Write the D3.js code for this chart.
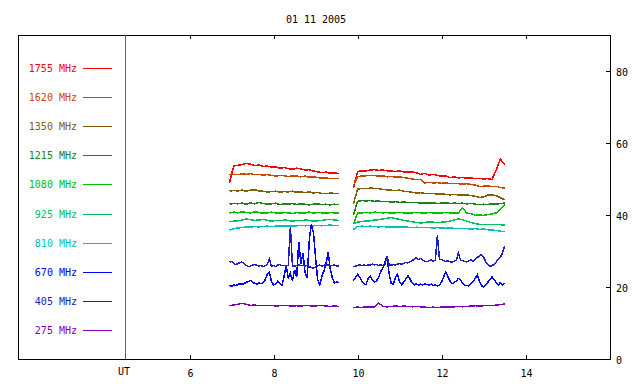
<!DOCTYPE html>
<html>
<head>
<meta charset="utf-8">
<script src="https://cdn.jsdelivr.net/npm/d3@7"></script>
<style>
  body { margin: 0; background: #fff; }
  text { font-family: "DejaVu Sans Mono", monospace; font-size: 10px; }
</style>
</head>
<body>
<div id="chart"></div>
<script>
var title = "01 11 2005";
var freqs = ["1755 MHz", "1620 MHz", "1350 MHz", "1215 MHz", "1080 MHz", "925 MHz", "810 MHz", "670 MHz", "405 MHz", "275 MHz"];
var xTicks = [6, 8, 10, 12, 14];
var yTicks = [0, 20, 40, 60, 80];

// two observing runs; quiet channels sampled every 0.1 h, 670/405 every 0.05 h
var seg1Start = 6.94, seg2Start = 9.89;

var f1755a = [49.0,53.6,53.8,54.0,54.3,54.1,53.7,53.9,53.5,53.6,53.3,53.4,53.0,53.2,52.9,52.7,53.0,52.8,52.5,52.6,52.2,52.0,51.8,51.9,51.6,51.7,51.5];
var f1755b = [47.5,52.1,52.3,52.2,52.5,52.6,52.4,52.5,52.3,52.2,52.1,52.2,52.0,51.9,52.0,51.7,51.3,51.6,51.1,51.3,51.0,50.8,50.9,50.4,50.6,50.3,50.4,50.2,50.3,50.1,50.2,50.0,50.1,49.9,52.5,55.6,54.0];
var f1620a = [51.1,51.3,51.2,51.4,51.3,51.5,51.2,51.3,51.1,51.2,51.0,50.8,51.0,50.9,50.7,50.9,50.8,50.6,50.8,50.5,50.6,50.4,50.2,50.3,50.1,50.2,50.1];
var f1620b = [48.0,50.7,50.8,50.9,51.0,51.0,50.8,50.9,50.6,50.7,50.5,50.6,50.4,50.2,50.0,49.8,49.9,48.9,49.1,48.9,49.0,48.8,48.9,48.7,48.8,48.7,48.6,48.7,48.5,48.3,47.9,48.0,48.1,47.9,48.0,47.6,47.5];
var f1350a = [46.6,46.8,46.7,46.9,46.6,46.9,47.0,46.7,46.6,46.4,46.5,46.6,46.3,46.5,46.4,46.6,46.3,46.4,46.2,46.4,46.1,46.3,46.0,45.9,46.1,46.0,46.0];
var f1350b = [43.0,47.2,47.4,47.3,47.5,47.4,47.3,47.1,47.0,46.9,46.8,46.9,46.6,46.5,46.3,46.1,46.2,46.0,45.9,46.0,45.8,45.9,45.7,45.6,45.7,45.6,45.5,45.6,45.4,45.2,44.9,45.0,45.5,45.6,45.4,44.8,44.2];
var f1215a = [43.0,43.2,43.1,43.3,43.0,43.4,43.1,43.5,43.2,43.0,43.1,43.3,42.9,43.1,43.0,43.2,42.9,43.1,43.0,42.8,43.0,43.1,42.9,43.0,42.8,43.0,42.9];
var f1215b = [40.0,43.8,44.0,43.9,44.0,43.8,43.9,43.7,43.8,43.6,43.7,43.5,43.6,43.5,43.4,43.5,43.3,43.4,43.3,43.4,43.2,43.3,43.4,43.2,43.3,43.2,43.3,43.1,43.2,43.0,42.9,43.0,42.9,43.1,43.0,43.2,43.3];
var f1080a = [40.5,40.8,40.6,40.9,40.7,40.6,40.9,40.7,40.5,40.6,40.8,40.6,40.5,40.7,40.6,40.4,40.7,40.5,40.6,40.8,40.5,40.7,40.6,40.5,40.7,40.6,40.5];
var f1080b = [37.5,40.5,40.6,40.7,40.6,40.8,40.7,40.6,40.7,40.5,40.6,40.7,40.6,40.5,40.6,40.7,40.6,40.5,40.7,40.6,40.5,40.6,40.7,40.6,40.5,40.6,42.0,40.5,40.4,39.9,40.0,39.9,40.1,40.3,40.6,41.5,42.9];
var f925a = [38.1,38.3,38.4,38.6,38.9,38.7,38.5,38.6,38.8,38.5,38.3,38.5,38.4,38.6,38.5,38.3,38.5,38.4,38.6,38.5,38.3,38.4,38.5,38.7,38.8,38.6,38.5];
var f925b = [37.6,38.0,38.2,38.3,38.4,38.6,38.7,38.9,39.1,39.3,39.0,38.8,38.5,38.3,38.1,37.9,37.8,37.9,38.1,38.0,37.9,38.0,38.1,38.3,38.6,38.9,38.7,38.3,37.9,37.6,37.4,37.3,37.4,37.3,37.4,37.3,37.2];
var f810a = [35.8,36.2,36.4,36.5,36.7,36.6,36.8,36.7,36.8,36.9,36.8,36.9,37.0,36.9,37.0,36.9,37.0,37.1,37.0,37.1,37.0,37.1,37.0,37.1,37.2,37.1,37.1];
var f810b = [36.0,36.8,36.9,36.8,36.9,36.8,36.7,36.8,36.7,36.6,36.7,36.6,36.7,36.6,36.5,36.6,36.5,36.6,36.5,36.4,36.5,36.4,36.3,36.4,36.3,36.2,36.3,36.2,36.1,36.2,36.0,36.1,35.9,35.8,35.7,35.5,35.3];
var f670a = [20.4,20.2,20.6,20.4,20.7,20.9,20.7,21.0,21.3,21.5,21.8,21.4,21.0,20.8,21.1,20.9,21.2,22.0,23.5,24.2,21.5,20.6,20.8,21.6,21.0,20.5,23.0,25.8,22.6,23.8,21.7,24.8,22.8,32.5,26.5,29.4,24.0,22.5,33.0,37.5,35.0,28.0,22.0,20.6,23.0,24.5,26.5,29.8,25.0,22.5,21.0,21.5,21.1];
var f670b = [21.8,22.6,23.5,22.8,21.6,20.9,20.7,22.3,23.0,21.9,21.4,21.7,22.6,24.3,25.2,26.8,28.6,23.8,21.0,20.7,22.6,23.6,21.5,20.6,21.4,22.2,23.1,22.2,21.1,20.6,20.9,20.5,20.8,20.6,20.9,20.7,20.5,20.8,20.4,20.6,20.3,20.5,21.4,22.8,24.2,22.9,21.7,20.9,21.3,21.6,22.4,22.0,21.0,20.5,20.4,20.3,20.9,21.6,22.3,23.4,21.5,20.4,19.9,20.5,21.3,22.0,22.8,22.0,21.3,20.6,21.2,20.5,21.0];
var f405a = [26.9,27.1,26.6,26.2,26.5,26.8,26.9,26.6,26.0,25.7,25.8,26.1,26.3,26.0,25.8,26.0,25.7,25.9,26.2,27.8,25.8,26.0,25.7,26.1,26.2,25.9,26.0,25.8,26.1,36.7,25.9,25.8,26.0,26.1,25.9,26.0,25.8,26.1,25.6,25.4,25.3,25.6,25.9,26.1,25.8,26.0,26.2,26.1,25.9,26.0,26.1,25.9,25.8];
var f405b = [25.6,25.8,26.0,26.2,25.9,26.1,25.9,26.2,26.0,26.4,26.1,26.3,26.0,26.2,26.0,26.3,28.6,26.2,26.0,26.3,26.1,26.4,26.5,26.3,26.6,26.8,26.7,27.0,27.3,27.8,28.1,27.6,27.9,27.4,27.2,27.0,27.3,27.5,27.2,27.4,34.3,27.6,27.7,27.3,27.1,27.3,27.0,26.9,27.2,27.4,29.4,27.5,27.3,27.1,27.0,27.3,27.5,27.2,27.8,28.2,28.6,29.0,28.4,27.0,26.2,25.7,25.9,26.3,26.9,27.8,28.3,29.4,31.3];
var f275a = [14.8,15.0,15.2,15.5,15.2,14.9,15.0,14.8,14.9,14.8,14.9,14.7,14.8,14.9,14.8,14.7,14.8,14.7,14.9,14.8,14.7,14.8,14.9,14.7,14.6,14.7,14.6];
var f275b = [14.3,14.4,14.3,14.5,14.4,14.5,15.6,14.6,14.5,14.6,14.7,14.6,14.7,14.6,14.5,14.6,14.5,14.4,14.3,14.4,14.3,14.4,14.5,14.4,14.5,14.6,14.5,14.6,14.7,14.8,14.7,14.8,14.9,14.8,15.0,15.1,15.3];

var colours = ["#ff0000", "#c84800", "#806000", "#208020", "#00c000", "#00c060", "#00c0c0", "#0000ff", "#2020c0", "#8000c0"];

var series = [
  {a: f1755a, b: f1755b, step: 0.1},
  {a: f1620a, b: f1620b, step: 0.1},
  {a: f1350a, b: f1350b, step: 0.1},
  {a: f1215a, b: f1215b, step: 0.1},
  {a: f1080a, b: f1080b, step: 0.1},
  {a: f925a, b: f925b, step: 0.1},
  {a: f810a, b: f810b, step: 0.1},
  {a: f670a, b: f670b, step: 0.05},
  {a: f405a, b: f405b, step: 0.05},
  {a: f275a, b: f275b, step: 0.1}
];

var width = 640, height = 384;
var frameLeft = 18, divider = 125, frameRight = 610, frameTop = 35, frameBottom = 359;

var svg = d3.select("#chart").append("svg")
    .attr("width", width)
    .attr("height", height);

var x = d3.scaleLinear().domain([4.4524, 16]).range([divider, frameRight]);
var y = d3.scaleLinear().domain([0, 90]).range([frameBottom, frameTop]);

svg.append("text")
    .attr("x", 316)
    .attr("y", 23)
    .attr("text-anchor", "middle")
    .text(title);

// frame
svg.append("rect")
    .attr("x", frameLeft + 0.5).attr("y", frameTop + 0.5)
    .attr("width", frameRight - frameLeft).attr("height", frameBottom - frameTop)
    .attr("fill", "none").attr("stroke", "#000").attr("shape-rendering", "crispEdges");
svg.append("line")
    .attr("x1", divider + 0.5).attr("x2", divider + 0.5)
    .attr("y1", frameTop).attr("y2", frameBottom)
    .attr("stroke", "#666").attr("shape-rendering", "crispEdges");

// tick marks on top, bottom and right
var tk = svg.append("g").attr("stroke", "#000").attr("shape-rendering", "crispEdges");
xTicks.forEach(function(t) {
  var px = Math.round(x(t)) + 0.5;
  tk.append("line").attr("x1", px).attr("x2", px).attr("y1", frameTop).attr("y2", frameTop + 4);
  tk.append("line").attr("x1", px).attr("x2", px).attr("y1", frameBottom).attr("y2", frameBottom - 4);
  svg.append("text").attr("x", px).attr("y", 377).attr("text-anchor", "middle").text(t);
});
yTicks.forEach(function(v) {
  var py = Math.round(y(v)) + 0.5;
  tk.append("line").attr("x1", frameRight).attr("x2", frameRight - 4).attr("y1", py).attr("y2", py);
  svg.append("text").attr("x", 616).attr("y", py + 4).text(v);
});
svg.append("text").attr("x", 124).attr("y", 375).attr("text-anchor", "middle").text("UT");

// legend
var leg = svg.append("g");
freqs.forEach(function(f, i) {
  var ly = 67.5 + i * 29.2;
  leg.append("text")
      .attr("x", 77).attr("y", ly + 4)
      .attr("text-anchor", "end")
      .attr("fill", colours[i])
      .text(f);
  leg.append("line")
      .attr("x1", 83).attr("x2", 112)
      .attr("y1", Math.round(ly) + 0.5).attr("y2", Math.round(ly) + 0.5)
      .attr("stroke", colours[i]).attr("shape-rendering", "crispEdges");
});

// data
var g = svg.append("g");
series.forEach(function(s, i) {
  [[s.a, seg1Start], [s.b, seg2Start]].forEach(function(seg) {
    var line = d3.line()
        .x(function(d, j) { return x(seg[1] + j * s.step); })
        .y(function(d) { return y(d); });
    g.append("path")
        .datum(seg[0])
        .attr("d", line)
        .attr("fill", "none")
        .attr("stroke", colours[i])
        .attr("stroke-width", 1.5)
        .attr("shape-rendering", "crispEdges");
  });
});
</script>
</body>
</html>
